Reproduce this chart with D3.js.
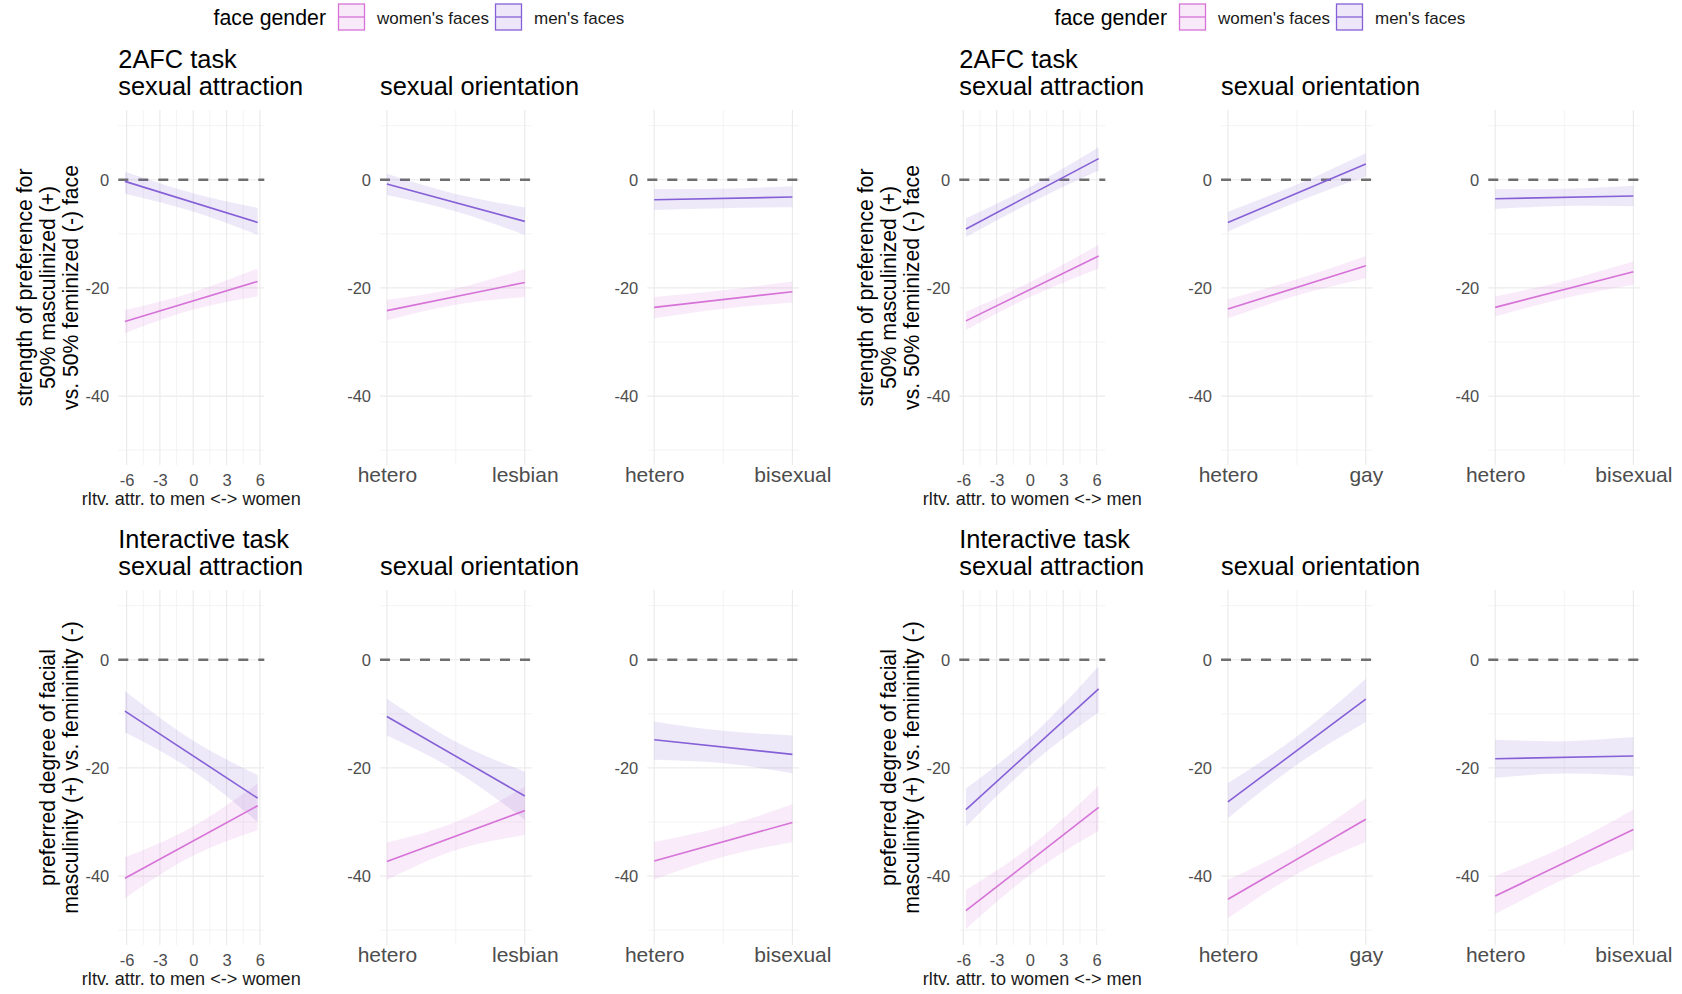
<!DOCTYPE html>
<html><head><meta charset="utf-8">
<script src="https://cdn.jsdelivr.net/npm/d3@7"></script>
<style>
body{margin:0;background:#fff}
svg{display:block}
text{font-family:"Liberation Sans",Arial,Helvetica,sans-serif}
</style>
</head><body>
<svg id="c" width="1682" height="994"></svg>
<script>
// ================= DATA =================
const faceGender = ["women's faces", "men's faces"];
const tasks = ["2AFC task", "Interactive task"];
const panelTitles = ["sexual attraction", "sexual orientation"];
const yTicks = [0, -20, -40];
const attrTicks = [-6, -3, 0, 3, 6];
const yTitle2afc = ["strength of preference for", "50% masculinized (+)", "vs. 50% feminized (-) face"];
const yTitleInt = ["preferred degree of facial", "masculinity (+) vs. femininity (-)"];

// left figure
const L_attrTitle = "rltv. attr. to men <-> women";
const L_orientA = ["hetero", "lesbian"];
const L_orientB = ["hetero", "bisexual"];
const L_attrRange = [-6.15, 5.8];
// right figure
const R_attrTitle = "rltv. attr. to women <-> men";
const R_orientA = ["hetero", "gay"];
const R_orientB = ["hetero", "bisexual"];
const R_attrRange = [-5.76, 6.18];

// each series: est = [start, end]; lo / hi = confidence band at [start, middle, end]
// ---- 2AFC task, left figure
const L_2afc_attr_women = {est: [-26.2, -18.8], lo: [-28.4, -24.1, -21.6], hi: [-24.1, -20.9, -16.4]};
const L_2afc_attr_men   = {est: [-0.3, -7.9],   lo: [-2.6, -5.8, -10.2],   hi: [1.5, -2.4, -5.2]};
const L_2afc_orA_women  = {est: [-24.2, -19.0], lo: [-26.0, -23.1, -21.7], hi: [-22.2, -20.1, -16.5]};
const L_2afc_orA_men    = {est: [-0.8, -7.7],   lo: [-2.8, -5.85, -10.2],  hi: [1.1, -2.65, -5.1]};
const L_2afc_orB_women  = {est: [-23.6, -20.7], lo: [-25.6, -23.85, -22.7], hi: [-21.7, -20.45, -18.8]};
const L_2afc_orB_men    = {est: [-3.7, -3.2],   lo: [-5.6, -5.25, -5.1],   hi: [-1.7, -1.65, -1.2]};
// ---- 2AFC task, right figure
const R_2afc_attr_women = {est: [-26.1, -14.1], lo: [-27.8, -21.5, -16.4], hi: [-24.4, -18.7, -12.0]};
const R_2afc_attr_men   = {est: [-9.1, 3.9],    lo: [-10.6, -4.1, 1.7],    hi: [-7.1, -1.1, 6.0]};
const R_2afc_orA_women  = {est: [-23.9, -15.9], lo: [-25.6, -21.4, -18.2], hi: [-22.1, -18.4, -14.1]};
const R_2afc_orA_men    = {est: [-7.9, 2.9],    lo: [-9.6, -4.1, 0.6],     hi: [-5.9, -0.9, 4.9]};
const R_2afc_orB_women  = {est: [-23.6, -17.0], lo: [-25.3, -21.9, -19.4], hi: [-21.6, -18.7, -15.1]};
const R_2afc_orB_men    = {est: [-3.5, -3.0],   lo: [-5.4, -4.85, -4.9],   hi: [-1.7, -1.65, -1.1]};
// ---- Interactive task, left figure
const L_int_attr_women  = {est: [-40.4, -27.0], lo: [-44.1, -36.4, -31.5], hi: [-36.5, -31.0, -22.9]};
const L_int_attr_men    = {est: [-9.5, -25.6],  lo: [-13.4, -20.35, -30.0], hi: [-5.8, -14.75, -21.3]};
const L_int_orA_women   = {est: [-37.3, -27.9], lo: [-40.7, -35.2, -32.4], hi: [-33.8, -30.0, -23.5]};
const L_int_orA_men     = {est: [-10.5, -25.2], lo: [-14.0, -20.55, -29.6], hi: [-7.2, -15.15, -20.7]};
const L_int_orB_women   = {est: [-37.2, -30.1], lo: [-40.6, -36.45, -33.7], hi: [-33.7, -30.85, -26.7]};
const L_int_orB_men     = {est: [-14.8, -17.5], lo: [-18.5, -19.15, -21.0], hi: [-11.4, -13.15, -14.0]};
// ---- Interactive task, right figure
const R_int_attr_women  = {est: [-46.4, -27.3], lo: [-49.8, -39.45, -31.6], hi: [-42.6, -34.25, -23.3]};
const R_int_attr_men    = {est: [-27.7, -5.4],  lo: [-30.9, -19.15, -9.7], hi: [-23.8, -13.95, -1.2]};
const R_int_orA_women   = {est: [-44.3, -29.5], lo: [-47.8, -39.6, -33.7], hi: [-40.7, -34.2, -25.6]};
const R_int_orA_men     = {est: [-26.3, -7.3],  lo: [-29.3, -19.4, -11.5], hi: [-22.8, -14.2, -3.5]};
const R_int_orB_women   = {est: [-43.7, -31.4], lo: [-47.0, -40.55, -35.1], hi: [-40.0, -34.55, -27.7]};
const R_int_orB_men     = {est: [-18.3, -17.8], lo: [-21.8, -21.05, -21.5], hi: [-14.8, -15.05, -14.3]};

// ================= LAYOUT / STYLE =================
const W = 1682, H = 994;
const figOffsets = [0, 841];
const panelX = [[118.3, 264.3], [380, 531.7], [647.3, 799.3]];
const rowY = [[110, 465], [590, 945]];
const yDomain = [-52.75, 12.9];
const lineCol = {"women's faces": "#D672D8", "men's faces": "#8560D6"};
const FONT = '"Liberation Sans",Arial,Helvetica,sans-serif';
const fmt = d => String(d);   // plain hyphen-minus like the reference

const figures = [
  {off: figOffsets[0], attrTitle: L_attrTitle, attrRange: L_attrRange, orient: [L_orientA, L_orientB],
   rows: [
     [[L_2afc_attr_women, L_2afc_attr_men], [L_2afc_orA_women, L_2afc_orA_men], [L_2afc_orB_women, L_2afc_orB_men]],
     [[L_int_attr_women, L_int_attr_men], [L_int_orA_women, L_int_orA_men], [L_int_orB_women, L_int_orB_men]]
   ]},
  {off: figOffsets[1], attrTitle: R_attrTitle, attrRange: R_attrRange, orient: [R_orientA, R_orientB],
   rows: [
     [[R_2afc_attr_women, R_2afc_attr_men], [R_2afc_orA_women, R_2afc_orA_men], [R_2afc_orB_women, R_2afc_orB_men]],
     [[R_int_attr_women, R_int_attr_men], [R_int_orA_women, R_int_orA_men], [R_int_orB_women, R_int_orB_men]]
   ]}
];

const svg = d3.select("#c");
svg.append("rect").attr("width", W).attr("height", H).attr("fill", "#fff");

function expand(ext) { const d = (ext[1] - ext[0]) * 0.05; return [ext[0] - d, ext[1] + d]; }
function midTicks(t) { return d3.pairs(t).map(p => (p[0] + p[1]) / 2); }

figures.forEach(fig => {
  const g = svg.append("g").attr("transform", `translate(${fig.off},0)`);

  // ---- legend
  const lg = g.append("g");
  lg.append("text").attr("x", 213.5).attr("y", 25).attr("font-size", 21.3).attr("fill", "#000").text("face gender");
  const keyX = [338.5, 495.5], labX = [377, 534];
  faceGender.forEach((k, i) => {
    lg.append("rect").attr("x", keyX[i]).attr("y", 4).attr("width", 26).attr("height", 26)
      .attr("fill", lineCol[k]).attr("fill-opacity", 0.15).attr("stroke", lineCol[k]).attr("stroke-width", 1.3);
    lg.append("line").attr("x1", keyX[i]).attr("x2", keyX[i] + 26).attr("y1", 17).attr("y2", 17)
      .attr("stroke", lineCol[k]).attr("stroke-width", 1.3);
    lg.append("text").attr("x", labX[i]).attr("y", 24).attr("font-size", 17).attr("fill", "#1a1a1a").text(k);
  });

  fig.rows.forEach((row, r) => {
    const [yTop, yBot] = rowY[r];
    const y = d3.scaleLinear().domain(yDomain).range([yBot, yTop]);

    // titles
    g.append("text").attr("x", panelX[0][0]).attr("y", 67.5 + r * 480).attr("font-size", 25.4).attr("fill", "#000").text(tasks[r]);
    g.append("text").attr("x", panelX[0][0]).attr("y", 95 + r * 480).attr("font-size", 25.4).attr("fill", "#000").text(panelTitles[0]);
    g.append("text").attr("x", panelX[1][0]).attr("y", 95 + r * 480).attr("font-size", 25.4).attr("fill", "#000").text(panelTitles[1]);

    // y axis title
    const yt = r === 0 ? yTitle2afc : yTitleInt;
    const bxs = r === 0 ? [32.4, 54.6, 78.1] : [54.6, 78.1];
    const cy = (yTop + yBot) / 2;
    yt.forEach((t, i) => {
      g.append("text").attr("transform", `translate(${bxs[i]},${cy}) rotate(-90)`)
        .attr("text-anchor", "middle").attr("font-size", 21.2).attr("fill", "#000").text(t);
    });

    row.forEach((series, p) => {
      const [xl, xr] = panelX[p];
      let x, ticks, labels;
      if (p === 0) {
        x = d3.scaleLinear().domain(expand(fig.attrRange)).range([xl, xr]);
        ticks = attrTicks; labels = null;
      } else {
        x = d3.scaleLinear().domain(expand([0, 1])).range([xl, xr]);
        ticks = [0, 1]; labels = fig.orient[p - 1];
      }
      const xs = p === 0 ? [fig.attrRange[0], (fig.attrRange[0] + fig.attrRange[1]) / 2, fig.attrRange[1]] : [0, 0.5, 1];
      const pg = g.append("g");

      // grid
      const minorY = midTicks([-60, -40, -20, 0, 20]).filter(v => v >= yDomain[0] && v <= yDomain[1]);
      pg.selectAll(".gmy").data(minorY).join("line").attr("x1", xl).attr("x2", xr)
        .attr("y1", d => y(d)).attr("y2", d => y(d)).attr("stroke", "#EBEBEB").attr("stroke-width", 0.6);
      pg.selectAll(".gmx").data(midTicks(ticks)).join("line").attr("y1", yTop).attr("y2", yBot)
        .attr("x1", d => x(d)).attr("x2", d => x(d)).attr("stroke", "#EBEBEB").attr("stroke-width", 0.6);
      pg.selectAll(".gy").data(yTicks).join("line").attr("x1", xl).attr("x2", xr)
        .attr("y1", d => y(d)).attr("y2", d => y(d)).attr("stroke", "#EBEBEB").attr("stroke-width", 1.2);
      pg.selectAll(".gx").data(ticks).join("line").attr("y1", yTop).attr("y2", yBot)
        .attr("x1", d => x(d)).attr("x2", d => x(d)).attr("stroke", "#EBEBEB").attr("stroke-width", 1.2);

      // zero reference line
      pg.append("line").attr("x1", xl).attr("x2", xr).attr("y1", y(0)).attr("y2", y(0))
        .attr("stroke", "#6E6E6E").attr("stroke-width", 2.4).attr("stroke-dasharray", "10,10");

      // bands & lines
      const area = d3.area().x(d => x(d.x)).y0(d => y(d.lo)).y1(d => y(d.hi)).curve(d3.curveNatural);
      const line = d3.line().x(d => x(d[0])).y(d => y(d[1]));
      series.forEach((s, si) => {
        const col = lineCol[faceGender[si]];
        const pts = xs.map((xv, i) => ({x: xv, lo: s.lo[i], hi: s.hi[i]}));
        pg.append("path").attr("d", area(pts)).attr("fill", col).attr("fill-opacity", 0.14);
      });
      series.forEach((s, si) => {
        const col = lineCol[faceGender[si]];
        pg.append("path").attr("d", line([[xs[0], s.est[0]], [xs[2], s.est[1]]]))
          .attr("fill", "none").attr("stroke", col).attr("stroke-width", 1.6);
      });

      // y axis labels
      const ya = pg.append("g").attr("transform", `translate(${xl},0)`)
        .call(d3.axisLeft(y).tickValues(yTicks).tickSize(0).tickPadding(9).tickFormat(fmt));
      ya.select(".domain").remove();
      ya.selectAll("text").attr("font-size", 16.5).attr("fill", "#4D4D4D").attr("font-family", FONT);

      // x axis labels
      const xa = pg.append("g").attr("transform", `translate(0,${yBot})`)
        .call(d3.axisBottom(x).tickValues(ticks).tickSize(0)
          .tickPadding(p === 0 ? 9.3 : 1.8)
          .tickFormat((d, i) => labels ? labels[i] : fmt(d)));
      xa.select(".domain").remove();
      xa.selectAll("text").attr("font-size", p === 0 ? 16.5 : 21).attr("fill", "#4D4D4D").attr("font-family", FONT);

      if (p === 0) {
        pg.append("text").attr("x", (xl + xr) / 2).attr("y", yBot + 40).attr("text-anchor", "middle")
          .attr("font-size", 18.1).attr("fill", "#1a1a1a").text(fig.attrTitle);
      }
    });
  });
});
</script>
</body></html>
